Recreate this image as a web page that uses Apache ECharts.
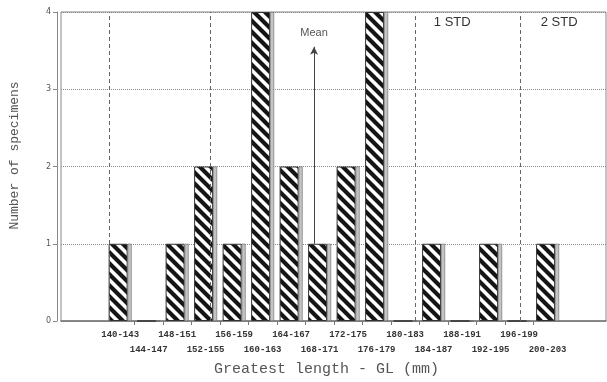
<!DOCTYPE html>
<html><head><meta charset="utf-8">
<script src="https://cdn.jsdelivr.net/npm/echarts@6/dist/echarts.min.js"></script>
<style>html,body{margin:0;padding:0;background:#fff}#c{width:607px;height:382px}</style>
</head><body><div id="c"></div>
<script>
const categories = ['140-143','144-147','148-151','152-155','156-159','160-163','164-167','168-171','172-175','176-179','180-183','184-187','188-191','192-195','196-199','200-203'];
const binCenters = [141.5,145.5,149.5,153.5,157.5,161.5,165.5,169.5,173.5,177.5,181.5,185.5,189.5,193.5,197.5,201.5];
const binEdges = [143.5,147.5,151.5,155.5,159.5,163.5,167.5,171.5,175.5,179.5,183.5,187.5,191.5,195.5,199.5];
const counts = [1,0,1,2,1,4,2,1,2,4,0,1,0,1,0,1];
const meanGL = 169.0;
const meanArrowTop = 3.55;
const stdLines = [140.2,154.5,183.2,197.9];
const stdLabels = [{name:'1 STD', x:188.4, y:3.86},{name:'2 STD', x:203.4, y:3.86}];
const yTicks = [0,1,2,3,4];

const evenCenters = binCenters.filter((v,i)=>i%2===0);
const oddCenters = binCenters.filter((v,i)=>i%2===1);
function catLabel(v){const i=binCenters.indexOf(v);return i<0?'':categories[i];}

// hatch pattern
const S = 11;
const pc = document.createElement('canvas');
pc.width = S; pc.height = S;
const g = pc.getContext('2d');
g.fillStyle = '#fff'; g.fillRect(0,0,S,S);
g.strokeStyle = '#151515'; g.lineWidth = 4.2;
g.beginPath();
g.moveTo(-3,-3); g.lineTo(S+3,S+3);
g.moveTo(-S-3,-3); g.lineTo(3,S+3);
g.moveTo(S-3,-3); g.lineTo(2*S+3,S+3);
g.stroke();

const labelStyle = {showMinLabel:true,showMaxLabel:true,hideOverlap:false,margin:9,fontFamily:'Liberation Mono',fontSize:9,fontWeight:'bold',color:'#333',formatter:catLabel};

const chart = echarts.init(document.getElementById('c'));
chart.setOption({
  animation:false,
  backgroundColor:'#fff',
  grid:{left:58,right:1,top:12,bottom:57,show:true,borderColor:'#888',borderWidth:1},
  xAxis:[{type:'value',min:133.2,max:209.7,position:'bottom',
    splitLine:{show:false},
    axisLine:{show:true,onZero:false,lineStyle:{color:'#777',width:1.5}},
    axisTick:{show:true,customValues:binEdges,length:4,lineStyle:{color:'#777'}},
    axisLabel:Object.assign({customValues:evenCenters},labelStyle),
    name:'Greatest length - GL (mm)',nameLocation:'middle',nameGap:41,
    nameTextStyle:{fontFamily:'Liberation Mono',fontSize:15,color:'#555',padding:[0,14,0,0]}
  },{type:'value',min:133.2,max:209.7,position:'bottom',offset:15,
    splitLine:{show:false},axisLine:{show:false},axisTick:{show:false},
    axisLabel:Object.assign({customValues:oddCenters},labelStyle)
  }],
  yAxis:{type:'value',min:0,max:4,interval:1,offset:4,
    axisLine:{show:true,lineStyle:{color:'#888'}},
    axisTick:{show:true,length:4,lineStyle:{color:'#888'}},
    axisLabel:{fontSize:8,color:'#555',margin:6,fontFamily:'DejaVu Sans',formatter:function(v){return yTicks.indexOf(v)>=0?String(v):'';}},
    splitLine:{show:true,lineStyle:{type:'dotted',color:'#888',width:1}},
    name:'Number of specimens',nameLocation:'middle',nameGap:36,
    nameTextStyle:{fontFamily:'Liberation Mono',fontSize:13,color:'#555',padding:[0,0,0,22]}
  },
  series:[
    {type:'bar',name:'front',barWidth:19,barGap:'0%',
      data:counts.map((c,i)=>[binCenters[i],c]),
      itemStyle:{color:{image:pc,repeat:'repeat'},borderColor:'#333',borderWidth:1},
      markLine:{silent:true,symbol:'none',
        data:[
          ...stdLines.map(v=>({xAxis:v,lineStyle:{type:[4,3],color:'#666',width:1},label:{show:false}})),
          [{coord:[meanGL,1],symbol:'none'},{coord:[meanGL,meanArrowTop],symbol:'arrow',symbolSize:[6,8],
            lineStyle:{type:'solid',color:'#444',width:1},
            label:{show:true,position:'end',formatter:'Mean',distance:8,color:'#555',fontSize:11,fontFamily:'Liberation Sans'}}]
        ]
      },
      markPoint:{silent:true,symbol:'circle',symbolSize:0,
        data:stdLabels.map(s=>({name:s.name,coord:[s.x,s.y]})),
        label:{show:true,formatter:'{b}',position:'inside',color:'#333',fontSize:13,fontFamily:'Liberation Sans'}
      }
    },
    {type:'bar',name:'side',barWidth:4,barGap:'0%',
      data:counts.map((c,i)=>[binCenters[i],c]),
      itemStyle:{color:'#c4c4c4',borderColor:'#666',borderWidth:0.6}
    }
  ]
});
</script></body></html>
